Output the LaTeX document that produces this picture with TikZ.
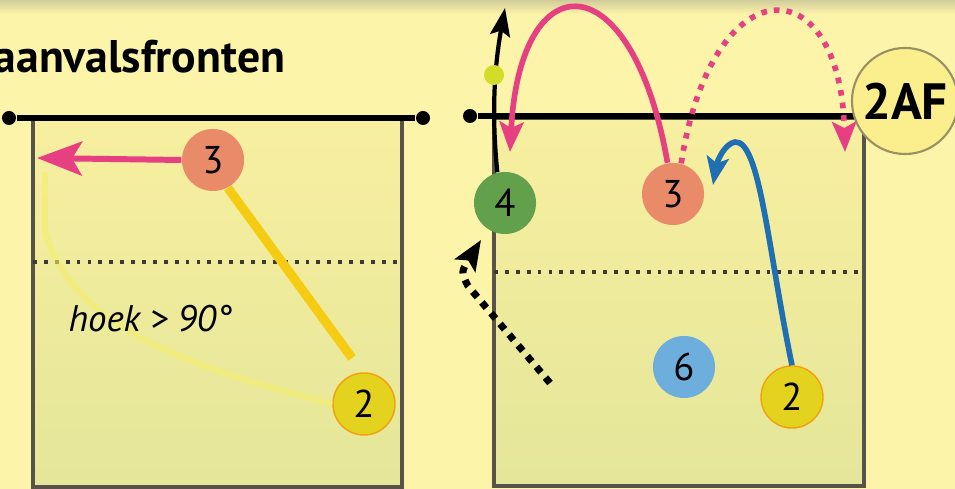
\documentclass[tikz,border=0pt]{standalone}
\usepackage{fontspec}
\setmainfont{PT Sans}
\usetikzlibrary{arrows.meta}

\definecolor{bgyellow}{HTML}{FCF4A8}
\definecolor{courttop}{HTML}{F8EFA0}
\definecolor{courtbot}{HTML}{E4E699}
\definecolor{courtline}{HTML}{57534A}
\definecolor{salmon}{HTML}{E98A68}
\definecolor{pinkmove}{HTML}{E63F82}
\definecolor{gold}{HTML}{F5CC12}
\definecolor{paleline}{HTML}{F4EE6A}
\definecolor{yellowpl}{HTML}{E3D21E}
\definecolor{greenpl}{HTML}{62A04C}
\definecolor{bluepl}{HTML}{6DAEDC}
\definecolor{bluemove}{HTML}{1F6FB2}
\definecolor{ballgreen}{HTML}{D4DC2A}
\definecolor{afyellow}{HTML}{FBEE8C}

\begin{document}
\begin{tikzpicture}[x=0.01cm, y=-0.01cm]
          \tikzstyle{player}=[circle, inner sep=0pt, minimum size=0.62cm, font=\fontsize{11}{11}\selectfont]
          \tikzstyle{court}=[draw=courtline, line width=0.9pt, top color=courttop, bottom color=courtbot]
          \tikzstyle{net}=[line width=1.5pt]
          \tikzstyle{post}=[circle, fill=black, inner sep=0pt, minimum size=0.14cm]
          \tikzstyle{attackline}=[courtline!70!black, line width=1.1pt, dotted]
          \tikzstyle{pinkarrow}=[pinkmove, line width=1.6pt, -{Stealth[length=0.3cm, width=0.24cm, inset=0.06cm]}]

          \useasboundingbox (0, 0) rectangle (955, 489);
          \fill[bgyellow] (0, 0) rectangle (955, 489);
          \shade[top color=gray!35!bgyellow, bottom color=bgyellow] (0, 0) rectangle (955, 14);

          \node (title) at (-7, 73) [anchor=base west, inner sep=0pt, font=\fontsize{13}{13}\selectfont\bfseries] {aanvalsfronten};

          % left court
          \shade[court] (33, 118) rectangle (402, 487);
          \draw[attackline] (33, 262) -- (402, 262);
          \node (lpostl) at (9, 118) [post] {};
          \node (lpostr) at (423, 118) [post] {};
          \draw[net] (lpostl) -- (lpostr);

          \node (l3) at (213, 160) [player, fill=salmon] {3};
          \node (l2) at (364, 404) [player, fill=yellowpl, draw=orange!60!yellowpl, line width=0.4pt] {2};
          \coordinate (lfront) at (37, 158);
          \coordinate (lhit) at (352, 358);
          \coordinate (lside) at (45, 172);

          \draw[paleline, line width=1.7pt, opacity=0.6] (lside) -- (45, 230) .. controls (70, 330) and (200, 370) .. (l2.west);
          \draw[gold, line width=2.6pt] (l3.-62) -- (lhit);
          \draw[pinkmove, line width=1.7pt, -{Stealth[length=0.45cm, width=0.34cm, inset=0.1cm]}] (l3.west) -- (lfront);
          \node (angle) at (68, 319) [anchor=west, inner sep=0pt, font=\fontsize{10.5}{11}\selectfont\itshape] {hoek > 90°};

          % right court
          \shade[court] (494, 118) rectangle (864, 486);
          \draw[attackline] (494, 272) -- (864, 272);
          \node (rpost) at (470, 116) [post] {};
          \draw[net] (rpost) -- (856, 116);
          \node (af) at (905, 101) [circle, inner sep=0pt, minimum size=1.06cm, fill=afyellow, draw=courtline!60!afyellow, line width=0.6pt, font=\fontsize{14.5}{14}\selectfont\bfseries] {2AF};

          \node (r4) at (505, 203) [player, fill=greenpl] {4};
          \node (r3) at (673, 194) [player, fill=salmon] {3};
          \node (r6) at (684, 367) [player, fill=bluepl] {6};
          \node (r2) at (792, 397) [player, fill=yellowpl, draw=orange!60!yellowpl, line width=0.4pt] {2};

          \coordinate (rup) at (505, 8);
          \coordinate (rleft) at (510, 152);
          \coordinate (rright) at (845, 152);
          \coordinate (rset) at (713, 185);
          \coordinate (rrunstart) at (550, 383);
          \coordinate (rrunend) at (481, 240);

          \draw[line width=1.2pt, -{Stealth[length=0.28cm, width=0.2cm, inset=0.05cm]}] (r4.104) .. controls (493, 130) and (492, 80) .. (rup);
          \node (ball) at (494, 75) [circle, fill=ballgreen, inner sep=0pt, minimum size=0.2cm] {};

          \draw[pinkarrow] (r3.100) .. controls (632, -40) and (520, -40) .. (rleft);
          \draw[pinkarrow, dotted] (r3.75) .. controls (712, -35) and (840, -35) .. (rright);
          \draw[bluemove, line width=1.6pt, -{Stealth[length=0.28cm, width=0.22cm, inset=0.06cm]}] (r2.north) .. controls (768, 250) and (760, 140) .. (735, 142) .. controls (724, 144) and (717, 162) .. (rset);
          \draw[line width=2pt, dotted, -{Stealth[length=0.3cm, width=0.24cm, inset=0.06cm]}] (rrunstart) -- (468, 286) .. controls (461, 272) .. (rrunend);
        \end{tikzpicture}
\end{document}
